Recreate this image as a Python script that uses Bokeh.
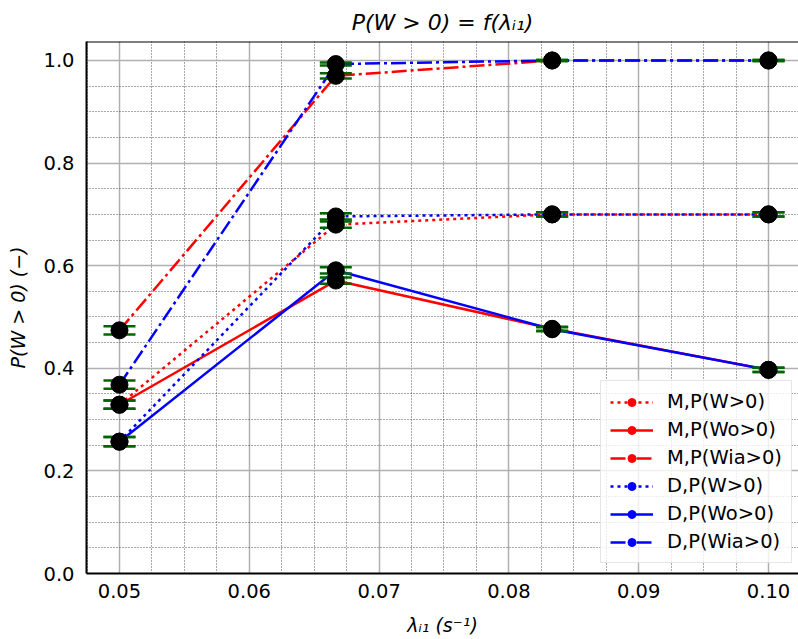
from bokeh.plotting import figure
from bokeh.models import Range1d, FixedTicker, Legend, LegendItem, Span
from bokeh.embed import file_html
from bokeh.resources import INLINE
import numpy as np

# arrival rate lambda_i1 (1/s)
lam = [1 / 20, 1 / 15, 1 / 12, 1 / 10]

# probabilities of waiting, model (M) and simulation data (D)
m_w = [0.329, 0.680, 0.700, 0.700]
m_wo = [0.329, 0.571, 0.477, 0.397]
m_wia = [0.474, 0.970, 1.000, 1.000]
d_w = [0.257, 0.696, 0.700, 0.700]
d_wo = [0.257, 0.591, 0.476, 0.397]
d_wia = [0.368, 0.993, 1.000, 1.000]

# half widths of the confidence intervals
m_w_err = [0.008, 0.006, 0.004, 0.004]
m_wo_err = [0.008, 0.006, 0.004, 0.004]
m_wia_err = [0.008, 0.005, 0.001, 0.001]
d_w_err = [0.009, 0.006, 0.004, 0.004]
d_wo_err = [0.009, 0.006, 0.004, 0.004]
d_wia_err = [0.008, 0.003, 0.001, 0.001]

labels = ["M,P(W>0)", "M,P(Wo>0)", "M,P(Wia>0)", "D,P(W>0)", "D,P(Wo>0)", "D,P(Wia>0)"]
x_ticks = [0.05, 0.06, 0.07, 0.08, 0.09, 0.10]
y_ticks = [0.0, 0.2, 0.4, 0.6, 0.8, 1.0]

series = [
    (m_w, m_w_err, "red", "3 4"),
    (m_wo, m_wo_err, "red", "solid"),
    (m_wia, m_wia_err, "red", "15 4 3 4"),
    (d_w, d_w_err, "blue", "3 4"),
    (d_wo, d_wo_err, "blue", "solid"),
    (d_wia, d_wia_err, "blue", "15 4 3 4"),
]

FONT = "DejaVu Sans"

p = figure(width=798, height=639, output_backend="svg", toolbar_location=None,
           x_range=Range1d(0.04746, 0.10231), y_range=Range1d(0.0, 1.037),
           min_border_left=86, min_border_right=0, min_border_top=41, min_border_bottom=66,
           title="P(W > 0) = f(λᵢ₁)")
p.title.align = "center"
p.title.text_font = FONT
p.title.text_font_style = "italic"
p.title.text_font_size = "22px"
p.title.text_color = "black"
p.title.standoff = 14

p.outline_line_color = None
p.background_fill_color = "white"
p.border_fill_color = "white"

# axes
x_minor = [float(v) for v in np.round(np.arange(0.0475, 0.1025, 0.0025), 4) if round(v * 100, 6) % 1 != 0]
y_minor = [float(v) for v in np.round(np.arange(0.0, 1.05, 0.05), 2) if round(v * 5, 6) % 1 != 0]
p.xaxis.ticker = FixedTicker(ticks=x_ticks, minor_ticks=x_minor)
p.yaxis.ticker = FixedTicker(ticks=y_ticks, minor_ticks=y_minor)
p.xaxis.major_label_overrides = {t: f"{t:.2f}" for t in x_ticks}
p.yaxis.major_label_overrides = {t: f"{t:.1f}" for t in y_ticks}
for ax in (p.xaxis, p.yaxis):
    ax.axis_line_color = "black"
    ax.axis_line_width = 2
    ax.major_tick_out = 0
    ax.major_tick_in = 0
    ax.minor_tick_out = 0
    ax.minor_tick_in = 0
    ax.major_label_text_font = FONT
    ax.major_label_text_font_size = "19.5px"
    ax.major_label_text_color = "black"
    ax.axis_label_text_font = FONT
    ax.axis_label_text_font_size = "19px"
    ax.axis_label_text_font_style = "italic"
    ax.axis_label_text_color = "black"
p.xaxis.axis_label = "λᵢ₁ (s⁻¹)"
p.yaxis.axis_label = "P(W > 0) (−)"
p.xaxis.major_label_standoff = 10
p.yaxis.major_label_standoff = 12
p.xaxis.axis_label_standoff = 13
p.yaxis.axis_label_standoff = 11

# grid
for g in (p.xgrid, p.ygrid):
    g.grid_line_color = "#b0b0b0"
    g.grid_line_width = 1.5
    g.minor_grid_line_color = "#333333"
    g.minor_grid_line_width = 1
    g.minor_grid_line_dash = "1 2"
    g.minor_grid_line_alpha = 0.85

# top frame edge
p.add_layout(Span(location=1.037, dimension="width", line_color="black", line_width=2))

items = []
for (vals, err, color, dash), lab in zip(series, labels):
    ln = p.line(lam, vals, line_color=color, line_width=2.5, line_dash=dash)
    mk = p.scatter(lam, vals, size=9, fill_color=color, line_color=color)
    items.append(LegendItem(label=lab, renderers=[ln, mk]))

# error bar caps
for vals, err, color, dash in series:
    up = [v + e for v, e in zip(vals, err)]
    lo = [v - e for v, e in zip(vals, err)]
    p.segment(lam, lo, lam, up, line_color="darkgreen", line_width=2)
    p.scatter(lam, up, marker="dash", size=32, line_color="darkgreen", line_width=2.5)
    p.scatter(lam, lo, marker="dash", size=32, line_color="darkgreen", line_width=2.5)

# measured points
for vals, err, color, dash in series:
    p.scatter(lam, vals, size=17, fill_color="black", line_color="black")

legend = Legend(items=items, location=(514, 10))
legend.label_text_font = FONT
legend.label_text_font_size = "19.5px"
legend.label_text_color = "black"
legend.glyph_width = 43
legend.glyph_height = 20
legend.label_standoff = 14
legend.spacing = 5
legend.padding = 9
legend.margin = 0
legend.border_line_color = "#cccccc"
legend.border_line_width = 1.5
legend.background_fill_alpha = 0.8
p.add_layout(legend)

open("out.html", "w").write(file_html(p, INLINE))
